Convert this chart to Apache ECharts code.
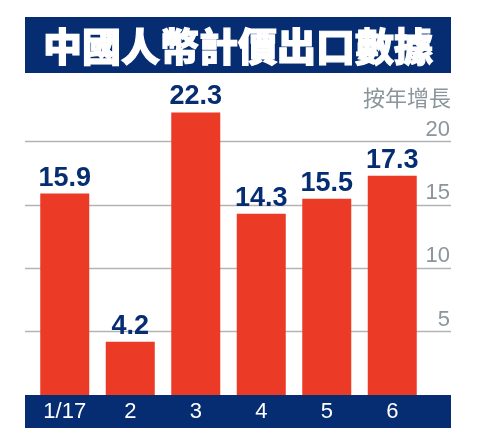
<!DOCTYPE html>
<html>
<head>
<meta charset="utf-8">
<script src="https://cdn.jsdelivr.net/npm/echarts@6/dist/echarts.min.js"></script>
<style>
  html, body { margin: 0; padding: 0; background: #ffffff; }
  #chart { width: 477px; height: 445px; }
</style>
</head>
<body>
<div id="chart"></div>
<script>
// Monthly year-on-year growth of RMB-denominated exports (%)
const months = ['1/17', '2', '3', '4', '5', '6'];
const growth = [15.9, 4.2, 22.3, 14.3, 15.5, 17.3];
const yTicks = [0, 5, 10, 15, 20, 25];

const NAVY = '#062d72';
const RED = '#eb3a26';
const GREY = '#8a959c';
const LINE = '#b4b4b4';

const chart = echarts.init(document.getElementById('chart'), null, { renderer: 'canvas' });

// Split lines only for the inner ticks (hide 0 and top)
const lineColors = yTicks.map((v, i) =>
  (i === 0 || i === yTicks.length - 1) ? 'rgba(0,0,0,0)' : LINE);

chart.setOption({
  backgroundColor: '#ffffff',
  animation: false,
  grid: [
    // wide grid: carries the horizontal guide lines and right-side labels
    { left: 25, right: 26, top: 78.3, bottom: 50 },
    // bar grid
    { left: 32, right: 52, top: 78.3, bottom: 50 }
  ],
  xAxis: [
    { type: 'category', gridIndex: 0, data: months, show: false },
    {
      type: 'category', gridIndex: 1, data: months, z: 10,
      axisLine: { show: false }, axisTick: { show: false },
      axisLabel: {
        color: '#ffffff', fontSize: 22, fontFamily: '"Liberation Sans", Arial, sans-serif',
        margin: 17, verticalAlign: 'middle'
      }
    }
  ],
  yAxis: [
    {
      type: 'value', gridIndex: 0, position: 'right',
      min: yTicks[0], max: yTicks[yTicks.length - 1], interval: 5,
      axisLine: { show: false }, axisTick: { show: false },
      axisLabel: {
        inside: true, margin: 1, verticalAlign: 'bottom', lineHeight: 24,
        color: GREY, fontSize: 22, fontFamily: '"Liberation Sans", Arial, sans-serif',
        formatter: v => (v === yTicks[0] || v === yTicks[yTicks.length - 1]) ? '' : String(v)
      },
      splitLine: { show: true, lineStyle: { color: lineColors, width: 1.3 } },
      name: '按年增長', nameLocation: 'end', nameGap: -19,
      nameTextStyle: {
        color: GREY, fontSize: 22, align: 'right', verticalAlign: 'middle',
        fontFamily: '"Noto Sans CJK TC", sans-serif'
      }
    },
    {
      type: 'value', gridIndex: 1,
      min: yTicks[0], max: yTicks[yTicks.length - 1], interval: 5,
      show: false, splitLine: { show: false }
    }
  ],
  series: [{
    type: 'bar', xAxisIndex: 1, yAxisIndex: 1,
    data: growth, barWidth: 49,
    itemStyle: { color: RED },
    label: {
      show: true, position: 'top', distance: 2,
      color: NAVY, fontSize: 27, fontWeight: 'bold',
      fontFamily: '"Liberation Sans", Arial, sans-serif',
      formatter: p => p.value.toFixed(1)
    },
    z: 5
  }],
  graphic: [
    // title banner
    {
      type: 'group', left: 25, top: 17,
      children: [
        { type: 'rect', shape: { x: 0, y: 0, width: 426, height: 56 }, style: { fill: NAVY } },
        {
          type: 'text', x: 213, y: 29,
          style: {
            text: '中國人幣計價出口數據', fill: '#ffffff',
            stroke: '#ffffff', lineWidth: 1.2,
            font: '900 39px "Noto Sans CJK TC", sans-serif',
            align: 'center', verticalAlign: 'middle'
          }
        }
      ]
    },
    // category band along the bottom
    {
      type: 'rect', left: 25, top: 395, z: 1,
      shape: { width: 426, height: 33 },
      style: { fill: NAVY }
    }
  ]
});
</script>
</body>
</html>
